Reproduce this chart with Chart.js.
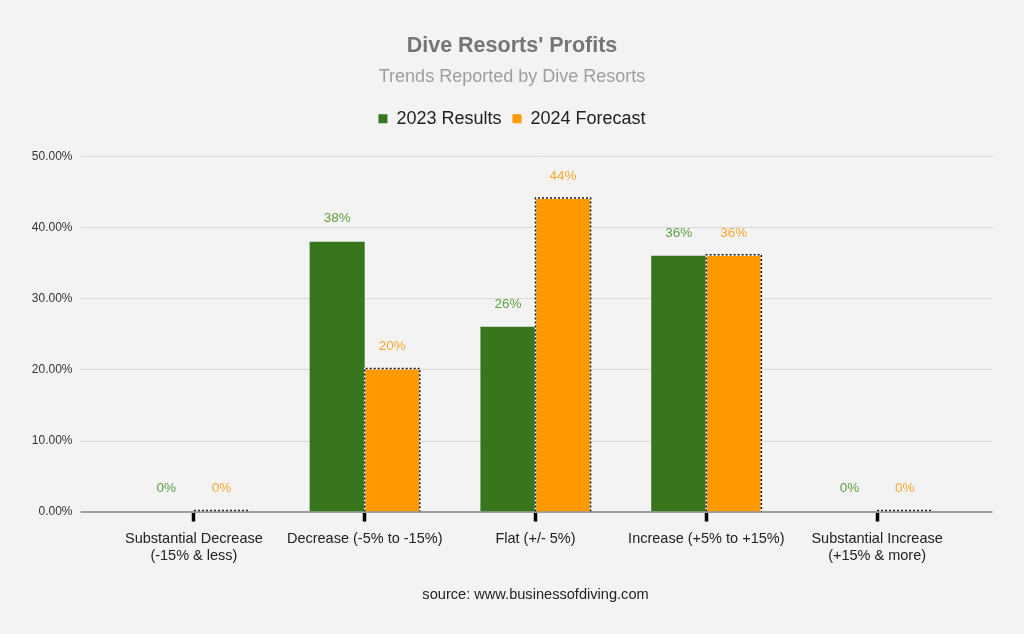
<!DOCTYPE html>
<html>
<head>
<meta charset="utf-8">
<script src="https://cdn.jsdelivr.net/npm/chart.js@4.4.1/dist/chart.umd.min.js"></script>
<style>
  html, body { margin: 0; padding: 0; background: #f3f3f3; }
  #wrap { width: 1024px; height: 634px; position: relative; }
</style>
</head>
<body>
<div id="wrap"><canvas id="c" width="1024" height="634"></canvas></div>
<script>
const categories = [
  ['Substantial Decrease', '(-15% & less)'],
  'Decrease (-5% to -15%)',
  'Flat (+/- 5%)',
  'Increase (+5% to +15%)',
  ['Substantial Increase', '(+15% & more)']
];
const results2023 = [0, 38, 26, 36, 0];
const forecast2024 = [0, 20, 44, 36, 0];
const seriesNames = ['2023 Results', '2024 Forecast'];
const yTicks = [0, 10, 20, 30, 40, 50];

const FONT = "'Liberation Sans', Arial, sans-serif";
const GREEN = '#38761d';
const ORANGE = '#ff9900';
const GREEN_LABEL = '#5f9e44';
const ORANGE_LABEL = '#f7a833';

const gridExt = {
  id: 'gridExt',
  beforeDatasetsDraw(chart) {
    const {ctx, chartArea, scales: {y}} = chart;
    const x1 = chartArea.left - 28, x2 = chartArea.right + 30;
    ctx.save();
    yTicks.forEach(v => {
      const py = Math.round(y.getPixelForValue(v));
      if (v === 0) return;
      ctx.strokeStyle = '#d9d9d9';
      ctx.lineWidth = 1;
      ctx.beginPath();
      ctx.moveTo(x1, py + 0.5); ctx.lineTo(x2, py + 0.5); ctx.stroke();
    });
    const p0 = Math.round(y.getPixelForValue(0));
    ctx.strokeStyle = '#9e9e9e';
    ctx.lineWidth = 2;
    ctx.beginPath();
    ctx.moveTo(x1, p0); ctx.lineTo(x2, p0); ctx.stroke();
    ctx.restore();
  }
};

const dashedBorder = {
  id: 'dashedBorder',
  afterDatasetsDraw(chart) {
    const {ctx} = chart;
    const meta = chart.getDatasetMeta(1);
    ctx.save();
    meta.data.forEach(el => {
      const {x, y, base, width} = el.getProps(['x', 'y', 'base', 'width'], true);
      const l = x - width / 2, r = x + width / 2;
      const top = Math.min(y, base) - 1, bot = Math.max(y, base);
      ctx.lineWidth = 1.5;
      ctx.beginPath();
      if (bot - top > 2) {
        ctx.moveTo(l, bot); ctx.lineTo(l, top); ctx.lineTo(r, top); ctx.lineTo(r, bot);
      } else {
        ctx.moveTo(l, top); ctx.lineTo(r, top);
      }
      ctx.setLineDash([]);
      ctx.strokeStyle = '#ffffff';
      ctx.stroke();
      ctx.setLineDash([2, 2]);
      ctx.strokeStyle = '#111111';
      ctx.stroke();
    });
    ctx.restore();
  }
};

const valueLabels = {
  id: 'valueLabels',
  afterDatasetsDraw(chart) {
    const {ctx} = chart;
    ctx.save();
    ctx.font = '13.5px ' + FONT;
    ctx.textAlign = 'center';
    ctx.textBaseline = 'middle';
    chart.data.datasets.forEach((ds, di) => {
      const meta = chart.getDatasetMeta(di);
      ctx.fillStyle = di === 0 ? GREEN_LABEL : ORANGE_LABEL;
      meta.data.forEach((el, i) => {
        const {x, y} = el.getProps(['x', 'y'], true);
        ctx.fillText(ds.data[i] + '%', x, y - 23);
      });
    });
    ctx.restore();
  }
};

const chart = new Chart(document.getElementById('c'), {
  type: 'bar',
  data: {
    labels: categories,
    datasets: [
      { label: seriesNames[0], data: results2023, backgroundColor: GREEN, borderWidth: 0 },
      { label: seriesNames[1], data: forecast2024, backgroundColor: ORANGE, borderWidth: 0 }
    ]
  },
  options: {
    responsive: false,
    animation: false,
    devicePixelRatio: 1,
    layout: { padding: { left: 0, right: 0, top: 0, bottom: 30 } },
    datasets: { bar: { categoryPercentage: 0.645, barPercentage: 1.0 } },
    plugins: {
      title: {
        display: true, text: "Dive Resorts' Profits", color: '#757575',
        font: { family: FONT, size: 21.5, weight: 'bold' },
        padding: { top: 33, bottom: 4 }
      },
      subtitle: {
        display: true, text: 'Trends Reported by Dive Resorts', color: '#9e9e9e',
        font: { family: FONT, size: 18 },
        padding: { top: 3.4, bottom: 11 }
      },
      legend: {
        display: true, position: 'top',
        labels: {
          color: '#222222', font: { family: FONT, size: 18 },
          boxWidth: 9, boxHeight: 9, padding: 11
        }
      },
      tooltip: { enabled: false }
    },
    scales: {
      x: {
        offset: true,
        grid: { display: true, offset: false, drawOnChartArea: false, drawTicks: true,
                tickLength: 10, tickWidth: 3.5, tickColor: '#000000', color: '#000000' },
        border: { display: false },
        ticks: { color: '#222222', font: { family: FONT, size: 14.5, lineHeight: 1.17 },
                 padding: 9, maxRotation: 0, autoSkip: false },
        title: { display: true, text: 'source: www.businessofdiving.com', color: '#222222',
                 font: { family: FONT, size: 14.6 }, padding: { top: 13, bottom: 0 } }
      },
      y: {
        min: 0, max: 50,
        afterFit(scale) { scale.width = 108.5; },
        grid: { display: false },
        border: { display: false },
        ticks: {
          stepSize: 10, color: '#333333', font: { family: FONT, size: 12 }, padding: 28,
          callback: v => Number(v).toFixed(2) + '%'
        }
      }
    }
  },
  plugins: [gridExt, dashedBorder, valueLabels]
});

// spacers: between legend and plot area, and to the right of the plot area
if (Chart.layouts && Chart.layouts.addBox) {
  const topSpacer = {
    position: 'top', weight: -10, fullSize: true, options: {},
    width: 0, height: 0, top: 0, left: 0, right: 0, bottom: 0,
    isHorizontal() { return true; },
    update(maxWidth) { this.width = maxWidth; this.height = 18.6; return {width: this.width, height: this.height}; },
    draw() {}
  };
  const rightSpacer = {
    position: 'right', weight: 10, fullSize: false, options: {},
    width: 0, height: 0, top: 0, left: 0, right: 0, bottom: 0,
    isHorizontal() { return false; },
    update(maxWidth, maxHeight) { this.width = 61.5; this.height = maxHeight; return {width: this.width, height: this.height}; },
    draw() {}
  };
  Chart.layouts.addBox(chart, topSpacer);
  Chart.layouts.addBox(chart, rightSpacer);
  chart.update();
}
</script>
</body>
</html>
